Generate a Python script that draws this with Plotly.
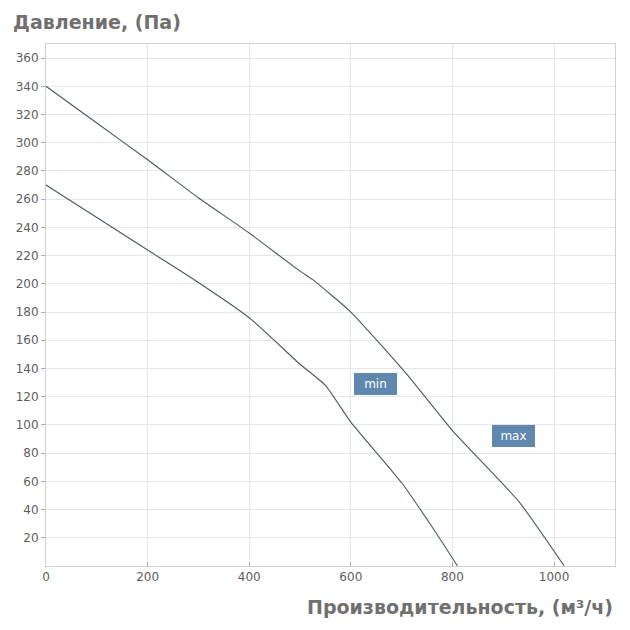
import plotly.graph_objects as go

# Data
max_x = [0, 100, 200, 300, 400, 500, 525, 600, 710, 800, 930, 1020]
max_y = [340, 314, 288, 261, 236, 209, 203, 180, 136, 96, 46, 0]
min_x = [0, 100, 200, 300, 400, 500, 550, 600, 700, 765, 810]
min_y = [270, 247, 224, 201, 176, 143, 128, 102, 59, 25, 0]

label_names = ["min", "max"]
label_x = [648, 921]
label_y = [129, 92]

y_ticks = list(range(20, 361, 20))
x_ticks = list(range(0, 1001, 200))

line_color = "#475a60"
grid_color = "#e6e6e6"
text_color = "#5e5e5e"
title_color = "#707070"
badge_color = "#6087ad"
font_family = "DejaVu Sans"

fig = go.Figure()
fig.add_trace(go.Scatter(x=max_x, y=max_y, mode="lines", name="max",
                         line=dict(color=line_color, width=1.1,
                                   shape="spline", smoothing=0.5)))
fig.add_trace(go.Scatter(x=min_x, y=min_y, mode="lines", name="min",
                         line=dict(color=line_color, width=1.1,
                                   shape="spline", smoothing=0.5)))

for name, lx, ly in zip(label_names, label_x, label_y):
    fig.add_annotation(x=lx, y=ly, text=name, showarrow=False,
                       font=dict(family=font_family, size=12, color="white"),
                       bgcolor=badge_color, borderpad=4, width=33, height=12,
                       bordercolor=badge_color, borderwidth=1)

fig.add_annotation(xref="paper", yref="paper", x=-0.062, y=1.042,
                   xanchor="left", yanchor="middle",
                   text="<b>Давление, (Па)</b>", showarrow=False,
                   font=dict(family=font_family, size=19, color=title_color))
fig.add_annotation(xref="paper", yref="paper", x=1.0, y=-0.079,
                   xanchor="right", yanchor="middle",
                   text="<b>Производительность, (м³/ч)</b>", showarrow=False,
                   font=dict(family=font_family, size=19, color=title_color))

fig.update_layout(
    width=614, height=614,
    margin=dict(l=38, r=7, t=36, b=56),
    paper_bgcolor="white", plot_bgcolor="white",
    showlegend=False,
    font=dict(family=font_family, size=12, color=text_color),
)
fig.update_xaxes(range=[0, 1120], tickvals=x_ticks, showgrid=True,
                 gridcolor=grid_color, gridwidth=1, zeroline=False,
                 showline=True, linecolor="#d0d0d0", mirror=True,
                 ticks="inside", ticklen=4, tickcolor="#aaaaaa",
                 tickfont=dict(size=12, color=text_color))
fig.update_yaxes(range=[0, 370], tickvals=y_ticks, showgrid=True,
                 gridcolor=grid_color, gridwidth=1, zeroline=False,
                 showline=True, linecolor="#d0d0d0", mirror=True,
                 ticks="outside", ticklen=4, tickcolor="#aaaaaa",
                 tickfont=dict(size=12, color=text_color))

fig.write_html("out.html")
